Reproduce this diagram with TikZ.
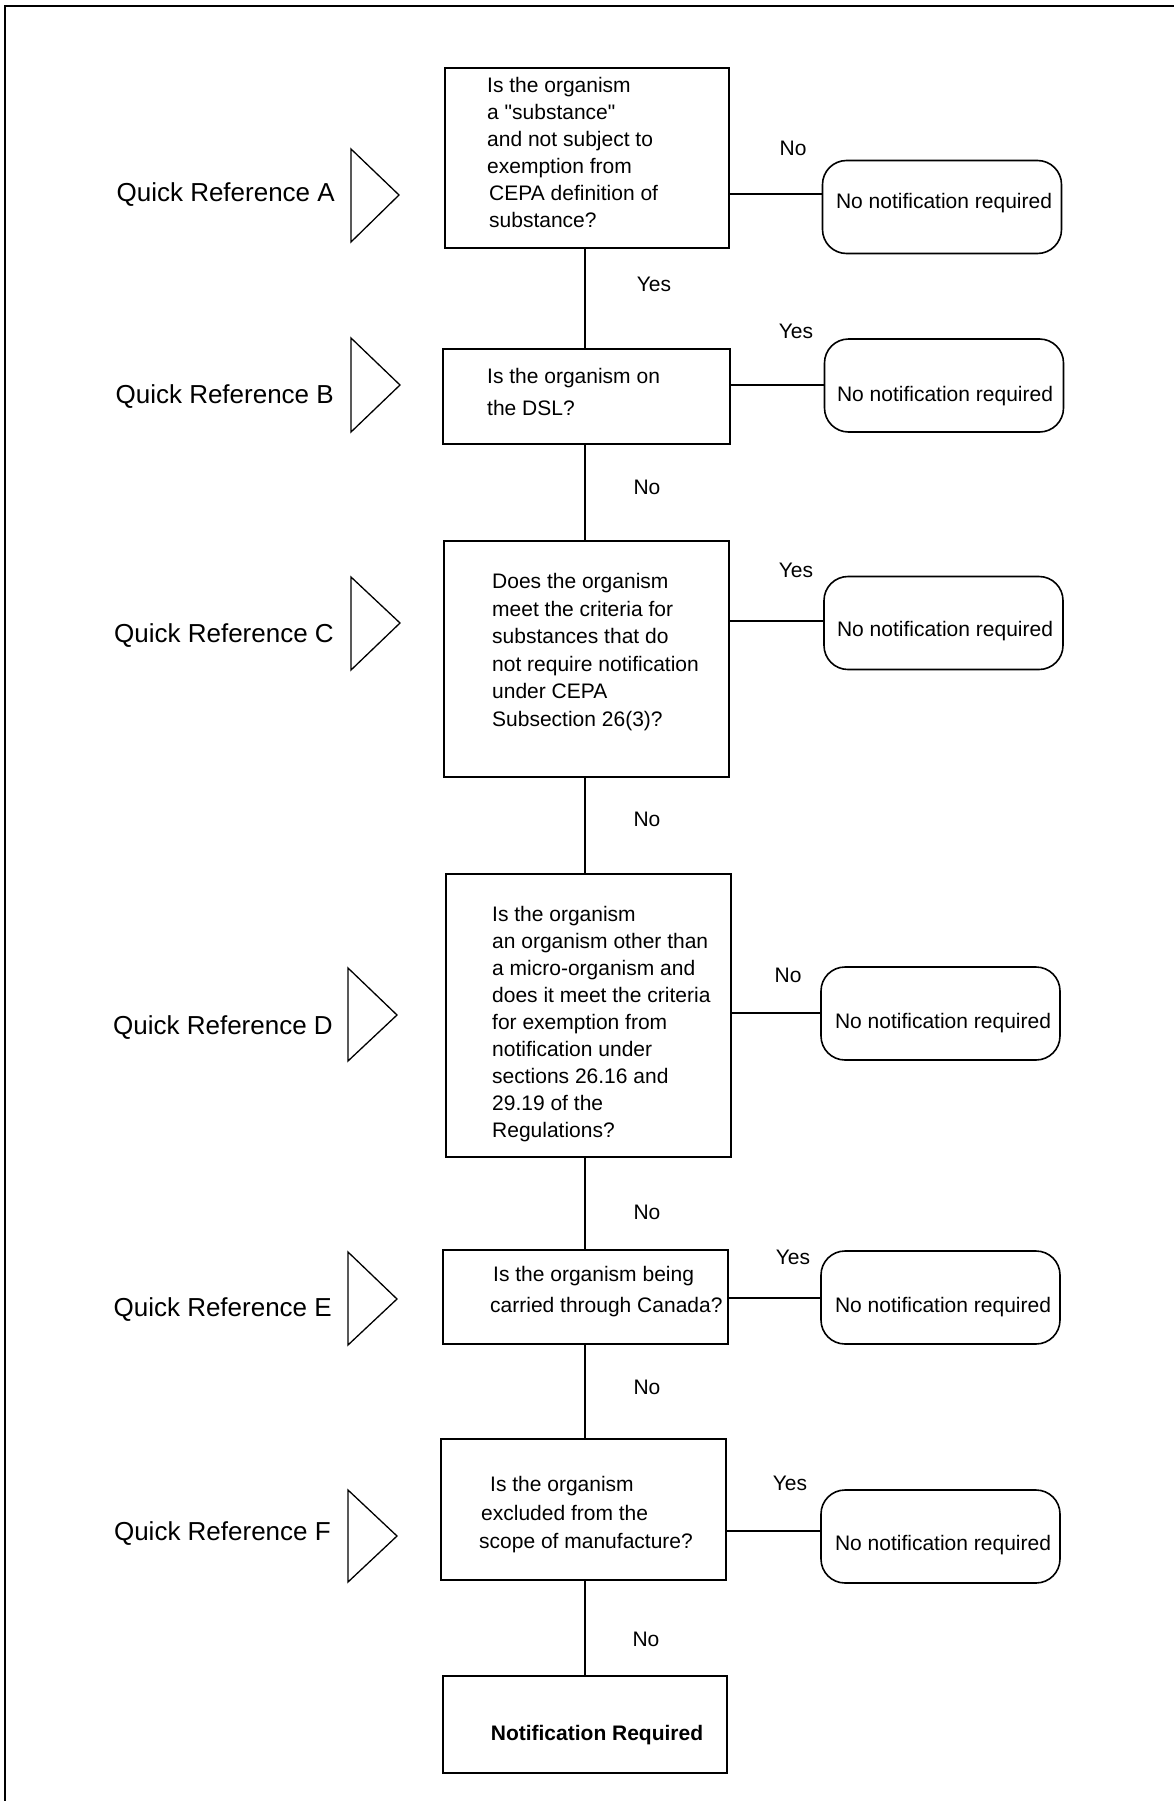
\documentclass[tikz,border=0pt]{standalone}
\usepackage{fontspec}
\setmainfont{Liberation Sans}[Ligatures=TeXOff]
\begin{document}
\begin{tikzpicture}[x=1pt,y=-1pt,
  qbox/.style={draw, line width=1.6pt, inner sep=0pt, outer sep=0pt},
  endbox/.style={draw, line width=1.6pt, rounded corners=24pt, inner sep=0pt, outer sep=0pt, minimum width=239pt, minimum height=93pt},
  conn/.style={line width=1.3pt},
  tri/.style={line width=1.3pt, line join=miter},
  qtext/.style={font=\fontsize{21pt}{27pt}\selectfont, align=left, anchor=west, inner sep=0pt},
  lbl/.style={font=\fontsize{21pt}{25pt}\selectfont, inner sep=0pt},
  qref/.style={font=\fontsize{26pt}{30pt}\selectfont, anchor=east, inner sep=0pt},
]
\useasboundingbox (0,0) rectangle (1174,1801);
\fill[white] (0,0) rectangle (1174,1801);
\draw[line width=1.5pt] (5,1801) -- (5,6) -- (1174,6);

% question boxes
\node[qbox, minimum width=284pt, minimum height=180pt] (A) at (587,158) {};
\node[qbox, minimum width=287pt, minimum height=95pt] (B) at (586.5,396.5) {};
\node[qbox, minimum width=285pt, minimum height=236pt] (C) at (586.5,659) {};
\node[qbox, minimum width=285pt, minimum height=283pt] (D) at (588.5,1015.5) {};
\node[qbox, minimum width=285pt, minimum height=94pt] (E) at (585.5,1297) {};
\node[qbox, minimum width=285pt, minimum height=141pt] (F) at (583.5,1509.5) {};
\node[qbox, minimum width=284pt, minimum height=97pt] (G) at (585,1724.5) {};

% texts in question boxes
\node[qtext] (tA) at (487,152) {Is the organism\\a "substance"\\and not subject to\\exemption from\\\hspace*{2pt}CEPA definition of\\\hspace*{2pt}substance?};
\node[qtext] (tB) at (487,392) {Is the organism on\\[5pt]the DSL?};
\node[qtext, font=\fontsize{21pt}{27.6pt}\selectfont] (tC) at (492,652) {Does the organism\\meet the criteria for\\substances that do\\not require notification\\under CEPA\\Subsection 26(3)?};
\node[qtext] (tD) at (492,1024) {Is the organism\\an organism other than\\a micro-organism and\\does it meet the criteria\\for exemption from\\notification under\\sections 26.16 and\\29.19 of the\\Regulations?};
\node[qtext] (tE) at (490,1292) {\hspace*{3pt}Is the organism being\\[4pt]carried through Canada?};
\node[qtext, font=\fontsize{21pt}{28.5pt}\selectfont] (tF) at (479,1515) {\hspace*{11pt}Is the organism\\\hspace*{2pt}excluded from the\\scope of manufacture?};
\node[lbl, font=\fontsize{21pt}{25pt}\selectfont\bfseries] (tG) at (597,1735) {Notification Required};

% end boxes
\node[endbox] (RA) at (942,207) {};
\node[endbox] (RB) at (944,385.5) {};
\node[endbox] (RC) at (943.5,623) {};
\node[endbox] (RD) at (940.5,1013.5) {};
\node[endbox] (RE) at (940.5,1297.5) {};
\node[endbox] (RF) at (940.5,1536.5) {};
\node[lbl] (tRA) at (944,203) {No notification required};
\node[lbl] (tRB) at (945,396) {No notification required};
\node[lbl] (tRC) at (945,631) {No notification required};
\node[lbl] (tRD) at (943,1023) {No notification required};
\node[lbl] (tRE) at (943,1307) {No notification required};
\node[lbl] (tRF) at (943,1545) {No notification required};

% vertical connectors
\coordinate (vx) at (585,0);
\draw[conn] (A.south -| vx) -- (B.north -| vx);
\draw[conn] (B.south -| vx) -- (C.north -| vx);
\draw[conn] (C.south -| vx) -- (D.north -| vx);
\draw[conn] (D.south -| vx) -- (E.north -| vx);
\draw[conn] (E.south -| vx) -- (F.north -| vx);
\draw[conn] (F.south -| vx) -- (G.north -| vx);

% horizontal connectors
\coordinate (hA) at (0,194);
\coordinate (hB) at (0,385);
\coordinate (hC) at (0,621);
\coordinate (hD) at (0,1013);
\coordinate (hE) at (0,1298);
\coordinate (hF) at (0,1531);
\draw[conn] (A.east |- hA) -- (RA.west |- hA);
\draw[conn] (B.east |- hB) -- (RB.west |- hB);
\draw[conn] (C.east |- hC) -- (RC.west |- hC);
\draw[conn] (D.east |- hD) -- (RD.west |- hD);
\draw[conn] (E.east |- hE) -- (RE.west |- hE);
\draw[conn] (F.east |- hF) -- (RF.west |- hF);

% connector labels
\node[lbl] (l1) at (654,284) {Yes};
\node[lbl] (l2) at (647,487) {No};
\node[lbl] (l3) at (647,819) {No};
\node[lbl] (l4) at (647,1212) {No};
\node[lbl] (l5) at (647,1387) {No};
\node[lbl] (l6) at (646,1639) {No};
\node[lbl] (r1) at (793,148) {No};
\node[lbl] (r2) at (796,331) {Yes};
\node[lbl] (r3) at (796,570) {Yes};
\node[lbl] (r4) at (788,975) {No};
\node[lbl] (r5) at (793,1257) {Yes};
\node[lbl] (r6) at (790,1483) {Yes};

% quick reference labels and triangles
\node[qref] (qA) at (335,195) {Quick Reference A};
\node[qref] (qB) at (334,397) {Quick Reference B};
\node[qref] (qC) at (334,636) {Quick Reference C};
\node[qref] (qD) at (333,1028) {Quick Reference D};
\node[qref] (qE) at (332,1310) {Quick Reference E};
\node[qref] (qF) at (331,1534) {Quick Reference F};
\draw[tri] (351,149) -- (399,195) -- (351,242) -- cycle;
\draw[tri] (351,338) -- (400,385) -- (351,432) -- cycle;
\draw[tri] (351,577) -- (400,623) -- (351,670) -- cycle;
\draw[tri] (348,968) -- (397,1015) -- (348,1061) -- cycle;
\draw[tri] (348,1252) -- (397,1299) -- (348,1345) -- cycle;
\draw[tri] (348,1490) -- (397,1536) -- (348,1582) -- cycle;
\end{tikzpicture}
\end{document}
